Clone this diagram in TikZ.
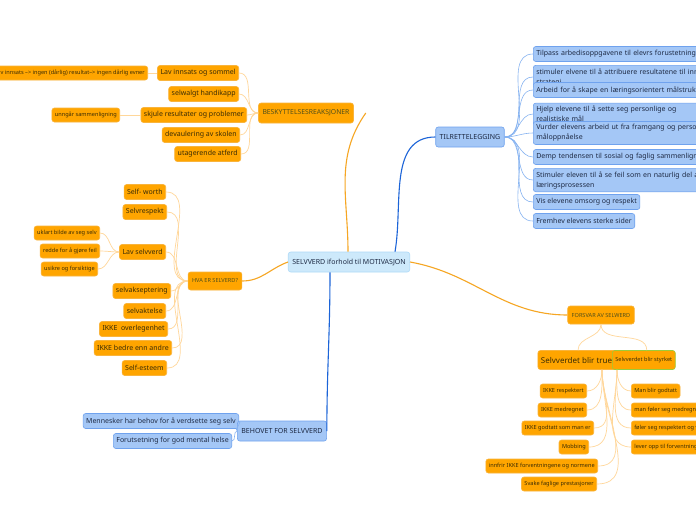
\documentclass[tikz,border=0pt]{standalone}
\usepackage{fontspec}
\setmainfont{Noto Sans}
\usetikzlibrary{positioning}

\definecolor{orfill}{HTML}{FFA500}
\definecolor{ordraw}{HTML}{F9B43C}
\definecolor{ortext}{HTML}{3A2C05}
\definecolor{ormain}{HTML}{52501A}
\definecolor{orline}{HTML}{F6A623}
\definecolor{orthin}{HTML}{FFD79A}
\definecolor{blfill}{HTML}{A4C7F6}
\definecolor{bldraw}{HTML}{6FA2EE}
\definecolor{bltext}{HTML}{1E2A44}
\definecolor{blline}{HTML}{1C64D8}
\definecolor{blthin}{HTML}{86B3F1}
\definecolor{rootfill}{HTML}{CDE9FB}
\definecolor{rootdraw}{HTML}{AEDAF7}
\definecolor{greendraw}{HTML}{9BCB3A}

\begin{document}
\begin{tikzpicture}[
x=1pt,y=-1pt,
every node/.style={rounded corners=2.5pt,inner sep=3pt,minimum height=15pt,line width=0.6pt},
rootbox/.style={draw=rootdraw,fill=rootfill,text=bltext,font=\fontsize{7}{9}\selectfont,minimum height=20pt,inner sep=4pt},
blmain/.style={draw=bldraw,fill=blfill,text=bltext,font=\fontsize{7}{9}\selectfont,minimum height=20pt,inner sep=4pt},
blsub/.style={draw=bldraw,fill=blfill,text=bltext,font=\fontsize{7}{10}\selectfont,anchor=west},
blwide/.style={blsub,align=left,text width=210pt},
ormainbox/.style={draw=ordraw,fill=orfill,text=ormain,font=\fontsize{6.8}{9}\selectfont,minimum height=20pt,inner sep=4pt},
orsub/.style={draw=ordraw,fill=orfill,text=ortext,font=\fontsize{7}{9}\selectfont},
orsmall/.style={draw=ordraw,fill=orfill,text=ortext,font=\fontsize{5.6}{7}\selectfont,minimum height=14pt},
mainor/.style={draw=orline,line width=1.1pt},
mainbl/.style={draw=blline,line width=1.1pt},
thinor/.style={draw=orthin,line width=0.7pt},
thinbl/.style={draw=blthin,line width=0.6pt}]
\useasboundingbox (0,0) rectangle (696,520);
\fill[white] (0,0) rectangle (696,520);
\clip (0,0) rectangle (696,520);

% main branches
\node (root) at (349,262) [rootbox] {SELVVERD iforhold til MOTIVASJON};
\node (beskytt) at (306,113) [ormainbox] {BESKYTTELSESREAKSJONER};
\node (tilrett) at (470,137) [blmain] {TILRETTELEGGING};
\node (hva) at (215,281) [ormainbox,font=\fontsize{5.6}{7}\selectfont,minimum height=18pt] {HVA ER SELVERD?};
\node (forsvar) at (601,315) [ormainbox,font=\fontsize{5.6}{7}\selectfont,minimum height=18pt] {FORSVAR AV SELWERD};

% behovet
\node (mennesker) at (239,421) [blsub,anchor=east] {Mennesker har behov for å verdsette seg selv};
\node (mental) at (232,441) [blsub,anchor=east] {Forutsetning for god mental helse};
\node (behov) at (282,431) [blmain] {BEHOVET FOR SELVVERD};

\draw[mainor] ([xshift=-1pt]root.north) to[out=90,in=235] ([xshift=12pt]beskytt.east);
\draw[mainbl] ([xshift=46pt]root.north) to[out=80,in=180] (tilrett.west);
\draw[mainor] (root.west) to[out=200,in=0] (hva.east);
\draw[mainbl] ([xshift=-19pt]root.south) to[out=270,in=90] (behov.east);
\draw[mainor] (root.east) to[out=-10,in=180] (forsvar.west);

% beskyttelsesreaksjoner
\node (lavinn) at (239,73) [orsub,anchor=east] {Lav innsats og sommel};
\node (handikap) at (239,94) [orsub,anchor=east] {selwalgt handikapp};
\node (skjule) at (247,115) [orsub,anchor=east] {skjule resultater og problemer};
\node (devaul) at (240,135) [orsub,anchor=east] {devaulering av skolen};
\node (utager) at (241,154) [orsub,anchor=east] {utagerende atferd};
\node (innsats) at (148,73) [orsmall,anchor=east] {Lav innsats --> ingen (dårlig) resultat--> ingen dårlig evner};
\node (unngar) at (120,115) [orsmall,anchor=east] {unngår sammenligning};
\foreach \n in {lavinn,handikap,skjule,devaul,utager}
  \draw[thinor] (beskytt.west) to[out=180,in=0] (\n.east);
\draw[thinor] (lavinn.west) -- (innsats.east);
\draw[thinor] (skjule.west) -- (unngar.east);

% tilrettelegging
\node (tilpass) at (533,54) [blwide] {Tilpass arbedisoppgavene til elevrs forustetninger};
\node (stimuler) at (533,77) [blwide] {stimuler elvene til å attribuere resultatene til innsats og\\strategi};
\node (arbeid) at (533,90) [blwide] {Arbeid for å skape en læringsorientert målstruktur};
\node (hjelp) at (533,114) [blwide] {Hjelp elevene til å sette seg personlige og\\realistiske mål};
\node (vurder) at (533,133) [blwide] {Vurder elevens arbeid ut fra framgang og personlig\\måloppnåelse};
\node (demp) at (533,157) [blwide] {Demp tendensen til sosial og faglig sammenligning};
\node (feil) at (533,180) [blwide] {Stimuler eleven til å se feil som en naturlig del av\\læringsprosessen};
\node (omsorg) at (533,202) [blsub] {Vis elevene omsorg og respekt};
\node (sterke) at (533,221) [blsub] {Fremhev elevens sterke sider};
\foreach \n in {tilpass,stimuler,arbeid,hjelp,vurder,demp,feil,omsorg,sterke}
  \draw[thinbl] (tilrett.east) to[out=0,in=180] (\n.west);

% hva er selvverd
\node (selfworth) at (166,192) [orsub,anchor=east] {Self- worth};
\node (selvresp) at (167,212) [orsub,anchor=east] {Selvrespekt};
\node (lavselv) at (166,252) [orsub,anchor=east] {Lav selvverd};
\node (selvaks) at (171,291) [orsub,anchor=east] {selvakseptering};
\node (selvakt) at (166,311) [orsub,anchor=east] {selvaktelse};
\node (ikkeover) at (168,329) [orsub,anchor=east] {IKKE\ \ overlegenhet};
\node (ikkebedre) at (172,348) [orsub,anchor=east] {IKKE bedre enn andre};
\node (selfest) at (167,368) [orsub,anchor=east] {Self-esteem};
\foreach \n in {selfworth,selvresp,lavselv,selvaks,selvakt,ikkeover,ikkebedre,selfest}
  \draw[thinor] (hva.west) to[out=180,in=0] (\n.east);
\node (uklart) at (100,233) [orsmall,anchor=east] {uklart bilde av seg selv};
\node (redde) at (100,251) [orsmall,anchor=east] {redde for å gjøre feil};
\node (usikre) at (98,269) [orsmall,anchor=east] {usikre og forsiktige};
\foreach \n in {uklart,redde,usikre}
  \draw[thinor] (lavselv.west) to[out=180,in=0] (\n.east);

\foreach \n in {mennesker,mental}
  \draw[thinbl] (behov.west) to[out=180,in=0] (\n.east);

% forsvar av selvverd
\node (truet) at (578,360) [orsub,font=\fontsize{8}{10}\selectfont,minimum height=19pt] {Selvverdet blir truet};
\node (styrket) at (612,360) [orsmall,draw=greendraw,anchor=west,minimum height=19pt] {Selvverdet blir styrket};
\draw[thinor] (forsvar.south) to[out=270,in=90] (truet.north);
\draw[thinor] (forsvar.south) to[out=270,in=90] ([xshift=3pt]styrket.north);

\node (ikkeresp) at (587,391) [orsmall,anchor=east] {IKKE respektert};
\node (ikkemed) at (587,410) [orsmall,anchor=east] {IKKE medregnet};
\node (ikkegodt) at (594,428) [orsmall,anchor=east] {IKKE godtatt som man er};
\node (mobbing) at (589,447) [orsmall,anchor=east] {Mobbing};
\node (innfrir) at (598,466) [orsmall,anchor=east] {innfrir IKKE forventningene og normene};
\node (svake) at (597,484) [orsmall,anchor=east] {Svake faglige prestasjoner};
\foreach \n in {ikkeresp,ikkemed,ikkegodt,mobbing,innfrir,svake}
  \draw[thinor] ([xshift=24pt]truet.south) to[out=270,in=0] (\n.east);

\node (godtatt) at (631,391) [orsmall,anchor=west] {Man blir godtatt};
\node (medreg) at (631,410) [orsmall,anchor=west] {man føler seg medregnet};
\node (respekt) at (631,428) [orsmall,anchor=west] {føler seg respektert og verdsatt};
\node (lever) at (631,447) [orsmall,anchor=west] {lever opp til forventningene};
\foreach \n in {godtatt,medreg,respekt,lever}
  \draw[thinor] ([xshift=5pt]styrket.south west) to[out=270,in=180] (\n.west);
\end{tikzpicture}
\end{document}
